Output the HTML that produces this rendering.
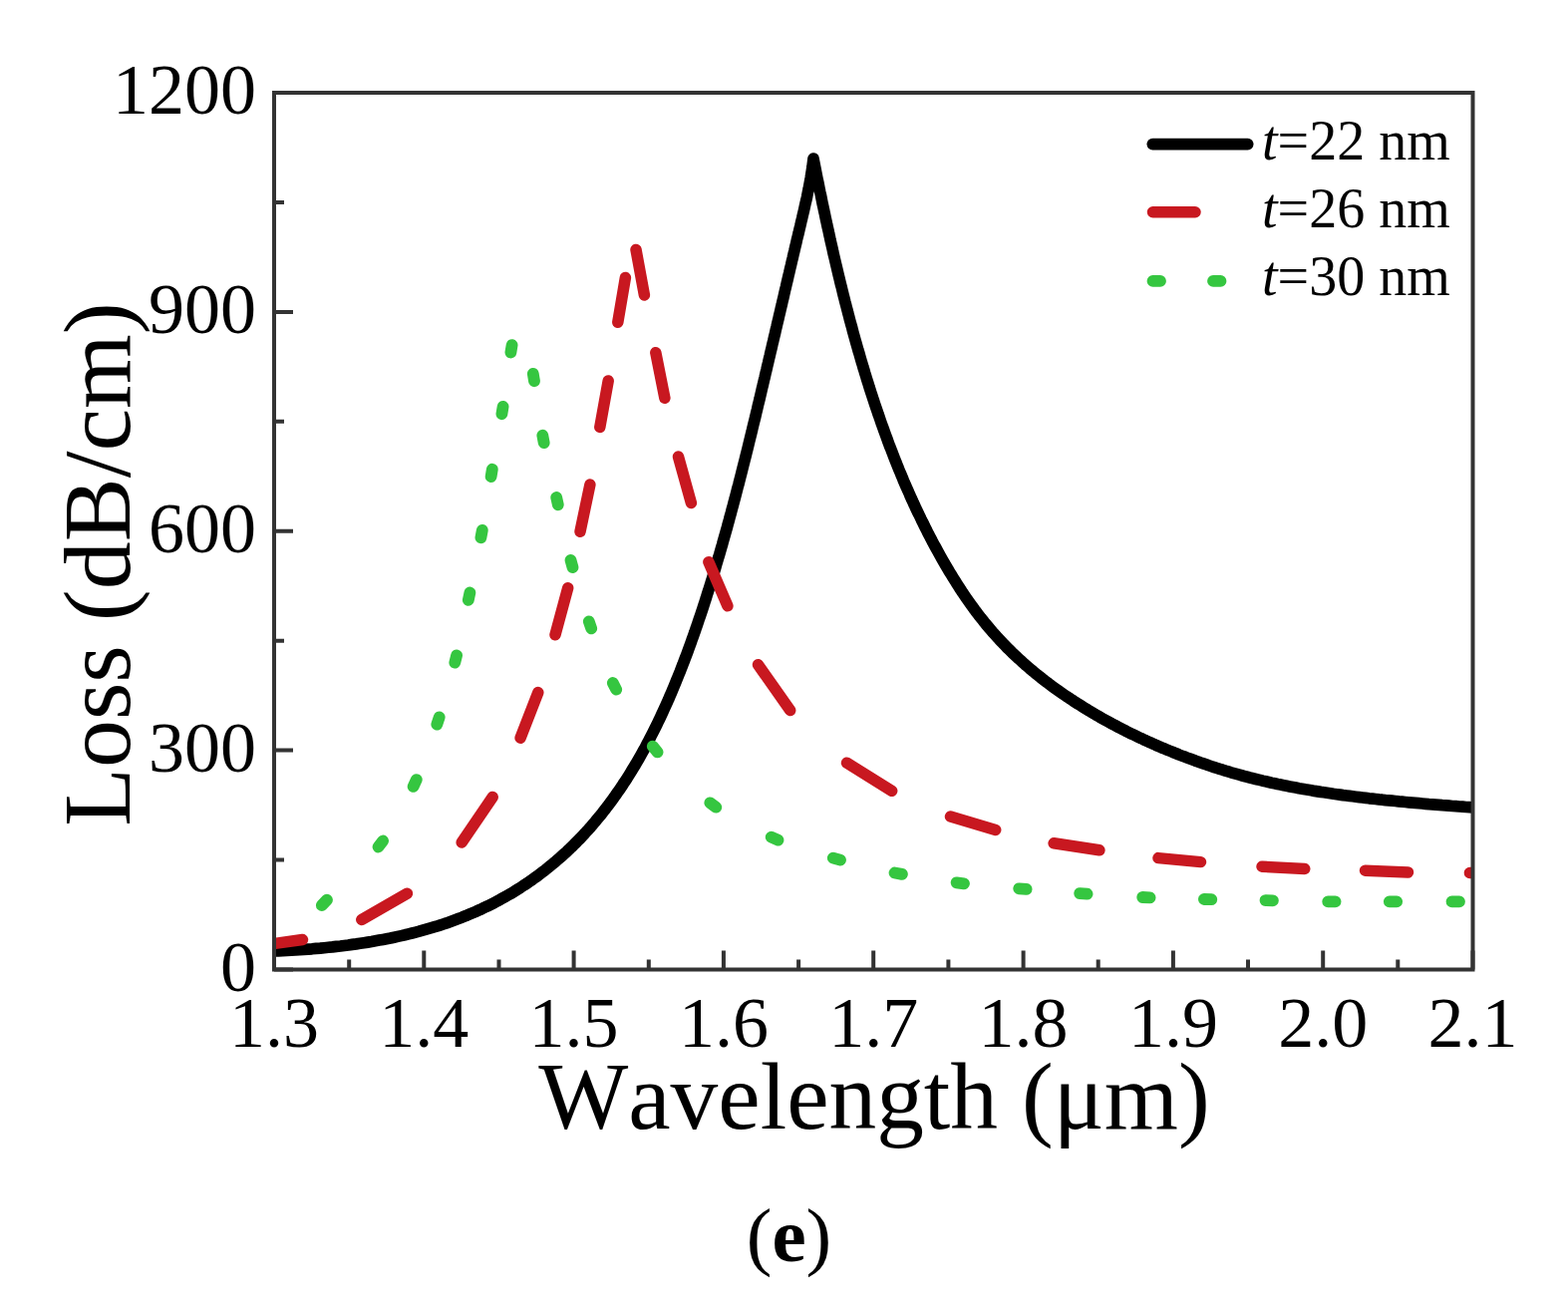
<!DOCTYPE html>
<html><head><meta charset="utf-8"><title>Loss vs Wavelength</title>
<style>html,body{margin:0;padding:0;background:#fff;}body{width:1573px;height:1315px;overflow:hidden;}svg{display:block;}text{font-kerning:none;}</style>
</head><body>
<svg width="1573" height="1315" viewBox="0 0 1573 1315">
<defs><clipPath id="pc"><rect x="275.0" y="60" width="1202.5" height="912.5"/></clipPath></defs>
<g clip-path="url(#pc)" fill="none" stroke-linecap="round" stroke-linejoin="round">
<path d="M275.0,954.0 L279.3,953.8 L283.6,953.6 L287.8,953.4 L292.1,953.2 L296.3,953.0 L300.5,952.7 L304.7,952.4 L308.8,952.1 L313.0,951.8 L317.1,951.4 L321.2,951.1 L325.3,950.7 L329.4,950.3 L333.4,949.9 L337.4,949.4 L341.4,949.0 L345.4,948.5 L349.4,948.0 L353.3,947.4 L357.3,946.9 L361.2,946.3 L365.0,945.7 L368.9,945.1 L372.7,944.5 L376.5,943.8 L380.3,943.1 L384.1,942.4 L387.8,941.7 L391.6,941.0 L395.3,940.2 L398.9,939.4 L402.6,938.6 L406.2,937.8 L409.8,936.9 L413.4,936.0 L417.0,935.1 L420.5,934.2 L424.0,933.2 L427.5,932.2 L431.0,931.2 L434.4,930.2 L437.8,929.2 L441.2,928.1 L444.6,927.0 L447.9,925.9 L451.2,924.7 L454.5,923.5 L457.8,922.3 L461.0,921.1 L464.2,919.8 L467.4,918.6 L470.6,917.2 L473.7,915.9 L476.8,914.6 L479.9,913.2 L483.0,911.8 L486.0,910.3 L489.0,908.9 L492.0,907.4 L495.0,905.9 L497.9,904.4 L500.8,902.8 L503.7,901.2 L506.6,899.6 L509.4,898.0 L512.3,896.4 L515.1,894.7 L517.8,893.0 L520.6,891.3 L523.3,889.5 L526.0,887.7 L528.7,886.0 L531.3,884.1 L534.0,882.3 L536.6,880.4 L539.2,878.6 L541.7,876.7 L544.3,874.7 L546.8,872.8 L549.3,870.8 L551.7,868.8 L554.2,866.8 L556.6,864.8 L559.0,862.7 L561.4,860.6 L563.8,858.5 L566.1,856.4 L568.5,854.3 L570.8,852.1 L573.0,849.9 L575.3,847.7 L577.5,845.5 L579.8,843.2 L582.0,841.0 L584.1,838.7 L586.3,836.4 L588.4,834.0 L590.6,831.7 L592.7,829.3 L594.7,826.9 L596.8,824.5 L598.8,822.1 L600.9,819.6 L602.9,817.2 L604.8,814.7 L606.8,812.2 L608.7,809.6 L610.7,807.1 L612.6,804.5 L614.5,802.0 L616.3,799.4 L618.2,796.8 L620.0,794.1 L621.9,791.5 L623.7,788.8 L625.4,786.1 L627.2,783.4 L629.0,780.7 L630.7,778.0 L632.4,775.2 L634.1,772.4 L635.8,769.7 L637.5,766.9 L639.1,764.1 L640.8,761.2 L642.4,758.4 L644.0,755.5 L645.6,752.6 L647.2,749.8 L648.7,746.8 L650.3,743.9 L651.8,741.0 L653.3,738.0 L654.8,735.1 L656.3,732.1 L657.8,729.1 L659.3,726.1 L660.7,723.1 L662.2,720.1 L663.6,717.0 L665.0,714.0 L666.4,710.9 L667.8,707.8 L669.2,704.8 L670.6,701.7 L671.9,698.5 L673.3,695.4 L674.6,692.3 L675.9,689.1 L677.2,686.0 L678.5,682.8 L679.8,679.6 L681.1,676.4 L682.4,673.3 L683.6,670.0 L684.9,666.8 L686.1,663.6 L687.3,660.4 L688.6,657.1 L689.8,653.9 L691.0,650.6 L692.2,647.3 L693.4,644.0 L694.5,640.7 L695.7,637.4 L696.9,634.1 L698.0,630.8 L699.2,627.5 L700.3,624.2 L701.4,620.8 L702.6,617.5 L703.7,614.1 L704.8,610.8 L705.9,607.4 L707.0,604.0 L708.1,600.7 L709.1,597.3 L710.2,593.9 L711.3,590.5 L712.4,587.1 L713.4,583.7 L714.5,580.2 L715.5,576.8 L716.6,573.4 L717.6,570.0 L718.6,566.5 L719.6,563.1 L720.6,559.6 L721.7,556.2 L722.7,552.7 L723.7,549.2 L724.7,545.8 L725.6,542.3 L726.6,538.8 L727.6,535.3 L728.6,531.8 L729.6,528.3 L730.5,524.8 L731.5,521.3 L732.4,517.8 L733.4,514.3 L734.3,510.8 L735.3,507.2 L736.2,503.7 L737.2,500.2 L738.1,496.6 L739.0,493.1 L739.9,489.5 L740.9,486.0 L741.8,482.4 L742.7,478.9 L743.6,475.3 L744.5,471.8 L745.4,468.2 L746.3,464.6 L747.2,461.1 L748.1,457.5 L749.0,453.9 L749.9,450.3 L750.8,446.7 L751.6,443.2 L752.5,439.6 L753.4,436.0 L754.3,432.4 L755.1,428.8 L756.0,425.2 L756.9,421.6 L757.8,418.0 L758.6,414.4 L759.5,410.8 L760.3,407.2 L761.2,403.6 L762.1,400.0 L762.9,396.4 L763.8,392.7 L764.6,389.1 L765.5,385.5 L766.3,381.9 L767.2,378.3 L768.0,374.7 L768.9,371.1 L769.7,367.4 L770.6,363.8 L771.4,360.2 L772.3,356.6 L773.1,353.0 L774.0,349.3 L774.8,345.7 L775.7,342.1 L776.5,338.5 L777.4,334.9 L778.2,331.2 L779.1,327.6 L779.9,324.0 L780.8,320.4 L781.6,316.8 L782.5,313.1 L783.3,309.5 L784.2,305.9 L785.0,302.3 L785.9,298.6 L786.7,295.0 L787.5,291.4 L788.4,287.8 L789.2,284.2 L790.1,280.5 L790.9,276.9 L791.8,273.3 L792.6,269.7 L793.5,266.1 L794.3,262.4 L795.2,258.8 L796.0,255.2 L796.9,251.6 L797.7,248.0 L798.6,244.4 L799.4,240.7 L800.3,237.1 L801.2,233.5 L802.0,229.9 L802.9,226.3 L803.7,222.7 L804.6,219.1 L805.4,215.5 L806.3,211.8 L807.1,208.2 L807.9,204.6 L808.8,200.9 L809.6,197.2 L810.3,193.5 L811.1,189.8 L811.8,186.1 L812.5,182.3 L813.2,178.5 L813.8,174.7 L814.4,170.8 L815.0,166.9 L815.5,163.0 L816.0,159.0 L816.6,162.1 L817.2,165.1 L817.8,168.2 L818.4,171.2 L819.0,174.3 L819.6,177.3 L820.2,180.3 L820.9,183.4 L821.5,186.4 L822.1,189.5 L822.7,192.5 L823.4,195.5 L824.0,198.5 L824.6,201.6 L825.2,204.6 L825.9,207.6 L826.5,210.6 L827.2,213.7 L827.8,216.7 L828.4,219.7 L829.1,222.7 L829.7,225.7 L830.4,228.7 L831.1,231.7 L831.7,234.7 L832.4,237.7 L833.0,240.7 L833.7,243.6 L834.4,246.6 L835.1,249.6 L835.7,252.6 L836.4,255.6 L837.1,258.5 L837.8,261.5 L838.5,264.5 L839.2,267.4 L839.9,270.4 L840.6,273.3 L841.3,276.3 L842.0,279.2 L842.7,282.2 L843.4,285.1 L844.2,288.0 L844.9,291.0 L845.6,293.9 L846.3,296.8 L847.1,299.8 L847.8,302.7 L848.6,305.6 L849.3,308.5 L850.1,311.4 L850.8,314.3 L851.6,317.2 L852.3,320.1 L853.1,323.0 L853.9,325.9 L854.7,328.7 L855.4,331.6 L856.2,334.5 L857.0,337.3 L857.8,340.2 L858.6,343.1 L859.4,345.9 L860.2,348.8 L861.0,351.6 L861.9,354.4 L862.7,357.3 L863.5,360.1 L864.3,362.9 L865.2,365.7 L866.0,368.6 L866.9,371.4 L867.7,374.2 L868.6,377.0 L869.4,379.8 L870.3,382.6 L871.2,385.3 L872.0,388.1 L872.9,390.9 L873.8,393.7 L874.7,396.4 L875.6,399.2 L876.5,401.9 L877.4,404.7 L878.3,407.4 L879.3,410.2 L880.2,412.9 L881.1,415.6 L882.1,418.3 L883.0,421.0 L883.9,423.8 L884.9,426.5 L885.9,429.1 L886.8,431.8 L887.8,434.5 L888.8,437.2 L889.8,439.9 L890.7,442.5 L891.7,445.2 L892.7,447.9 L893.8,450.5 L894.8,453.1 L895.8,455.8 L896.8,458.4 L897.8,461.0 L898.9,463.6 L899.9,466.3 L901.0,468.9 L902.0,471.5 L903.1,474.0 L904.2,476.6 L905.3,479.2 L906.3,481.8 L907.4,484.3 L908.5,486.9 L909.6,489.4 L910.8,492.0 L911.9,494.5 L913.0,497.1 L914.1,499.6 L915.3,502.1 L916.4,504.6 L917.6,507.1 L918.7,509.6 L919.9,512.1 L921.1,514.6 L922.3,517.0 L923.5,519.5 L924.6,522.0 L925.9,524.4 L927.1,526.9 L928.3,529.3 L929.5,531.7 L930.7,534.2 L932.0,536.6 L933.2,539.0 L934.5,541.4 L935.7,543.8 L937.0,546.2 L938.3,548.5 L939.6,550.9 L940.9,553.3 L942.2,555.6 L943.5,558.0 L944.8,560.3 L946.1,562.6 L947.5,565.0 L948.8,567.3 L950.2,569.6 L951.5,571.9 L952.9,574.2 L954.3,576.4 L955.7,578.7 L957.1,581.0 L958.5,583.2 L959.9,585.5 L961.3,587.7 L962.7,589.9 L964.2,592.1 L965.6,594.3 L967.1,596.5 L968.6,598.7 L970.1,600.8 L971.6,603.0 L973.1,605.1 L974.6,607.3 L976.2,609.4 L977.7,611.5 L979.3,613.6 L980.9,615.7 L982.4,617.7 L984.0,619.8 L985.7,621.8 L987.3,623.9 L988.9,625.9 L990.6,627.9 L992.3,629.9 L993.9,631.8 L995.6,633.8 L997.3,635.7 L999.1,637.7 L1000.8,639.6 L1002.6,641.5 L1004.3,643.4 L1006.1,645.2 L1007.9,647.1 L1009.7,649.0 L1011.5,650.8 L1013.4,652.6 L1015.2,654.4 L1017.1,656.2 L1019.0,658.0 L1020.9,659.8 L1022.8,661.5 L1024.7,663.2 L1026.6,665.0 L1028.5,666.7 L1030.5,668.4 L1032.5,670.1 L1034.4,671.8 L1036.4,673.4 L1038.4,675.1 L1040.4,676.7 L1042.5,678.3 L1044.5,680.0 L1046.6,681.6 L1048.6,683.2 L1050.7,684.7 L1052.8,686.3 L1054.9,687.9 L1057.0,689.4 L1059.1,690.9 L1061.3,692.5 L1063.4,694.0 L1065.5,695.5 L1067.7,697.0 L1069.9,698.5 L1072.1,699.9 L1074.3,701.4 L1076.5,702.8 L1078.7,704.3 L1080.9,705.7 L1083.2,707.1 L1085.4,708.5 L1087.7,709.9 L1089.9,711.3 L1092.2,712.7 L1094.5,714.1 L1096.8,715.4 L1099.1,716.8 L1101.4,718.1 L1103.7,719.5 L1106.1,720.8 L1108.4,722.1 L1110.8,723.4 L1113.1,724.7 L1115.5,726.0 L1117.9,727.2 L1120.3,728.5 L1122.7,729.8 L1125.1,731.0 L1127.5,732.2 L1129.9,733.5 L1132.4,734.7 L1134.8,735.9 L1137.3,737.1 L1139.8,738.3 L1142.2,739.5 L1144.7,740.6 L1147.2,741.8 L1149.7,742.9 L1152.2,744.1 L1154.7,745.2 L1157.3,746.3 L1159.8,747.5 L1162.4,748.6 L1164.9,749.7 L1167.5,750.7 L1170.1,751.8 L1172.7,752.9 L1175.3,753.9 L1177.9,755.0 L1180.5,756.0 L1183.1,757.1 L1185.7,758.1 L1188.4,759.1 L1191.0,760.1 L1193.7,761.1 L1196.4,762.1 L1199.1,763.1 L1201.8,764.0 L1204.5,765.0 L1207.2,765.9 L1209.9,766.8 L1212.6,767.8 L1215.4,768.7 L1218.1,769.6 L1220.9,770.5 L1223.7,771.4 L1226.5,772.2 L1229.3,773.1 L1232.1,773.9 L1234.9,774.8 L1237.7,775.6 L1240.6,776.4 L1243.4,777.2 L1246.3,778.0 L1249.2,778.8 L1252.1,779.5 L1255.0,780.3 L1257.9,781.0 L1260.8,781.7 L1263.8,782.4 L1266.7,783.2 L1269.7,783.8 L1272.7,784.5 L1275.6,785.2 L1278.6,785.8 L1281.7,786.5 L1284.7,787.1 L1287.7,787.7 L1290.8,788.3 L1293.8,788.9 L1296.9,789.5 L1300.0,790.1 L1303.1,790.7 L1306.2,791.2 L1309.3,791.8 L1312.4,792.3 L1315.5,792.8 L1318.7,793.4 L1321.8,793.9 L1325.0,794.4 L1328.1,794.8 L1331.3,795.3 L1334.5,795.8 L1337.7,796.3 L1340.9,796.7 L1344.1,797.1 L1347.3,797.6 L1350.6,798.0 L1353.8,798.4 L1357.0,798.8 L1360.3,799.2 L1363.6,799.6 L1366.8,800.0 L1370.1,800.4 L1373.4,800.8 L1376.7,801.1 L1380.0,801.5 L1383.3,801.9 L1386.6,802.2 L1389.9,802.6 L1393.2,802.9 L1396.5,803.2 L1399.9,803.5 L1403.2,803.9 L1406.5,804.2 L1409.9,804.5 L1413.2,804.8 L1416.6,805.1 L1419.9,805.4 L1423.3,805.7 L1426.7,806.0 L1430.0,806.3 L1433.4,806.6 L1436.8,806.8 L1440.2,807.1 L1443.6,807.4 L1446.9,807.7 L1450.3,807.9 L1453.7,808.2 L1457.1,808.5 L1460.5,808.7 L1463.9,809.0 L1467.3,809.2 L1470.7,809.5 L1474.1,809.7 L1477.5,810.0" stroke="#000" stroke-width="11.7"/>
<path d="M271.0,947.0 L303.5,942.5 M362.8,922.4 L408.4,896.2 M463.2,845.1 L494.2,799.5 M522.1,740.2 L539.8,694.6 M557.0,636.8 L569.7,589.7 M582.0,533.3 L591.9,486.1 M601.8,428.4 L610.2,382.0 M619.8,323.3 L627.4,278.5 M638.0,250.4 L646.4,296.0 M657.8,353.7 L666.9,399.3 M680.5,458.1 L693.4,504.5 M710.9,563.7 L729.9,607.8 M760.5,666.7 L792.7,712.5 M849.5,765.2 L894.7,793.3 M953.5,819.1 L998.7,832.4 M1057.1,845.8 L1102.9,852.8 M1162.0,860.6 L1204.5,864.6 M1266.0,869.2 L1308.8,871.5 M1369.5,873.2 L1412.5,875.0 M1474.4,875.5 L1500.0,875.8" stroke="#c81820" stroke-width="11.5"/>
<path d="M322.8,908.1 L328.0,902.7 M379.5,849.5 L384.1,843.5 M414.6,788.9 L417.8,782.1 M438.3,726.6 L440.7,719.4 M456.3,664.6 L458.1,657.4 M469.8,601.9 L471.4,594.5 M482.4,539.3 L483.8,531.9 M492.6,478.1 L493.8,470.7 M503.4,415.3 L504.6,407.9 M512.4,353.5 L513.6,346.1 M534.8,374.9 L536.0,382.3 M544.3,436.7 L545.7,444.1 M558.2,498.9 L559.8,506.3 M572.5,561.9 L574.5,569.1 M590.8,623.4 L593.2,630.4 M614.8,685.0 L618.2,691.6 M654.8,748.6 L659.6,754.4 M712.3,805.3 L718.3,809.7 M773.7,839.7 L780.5,842.7 M835.8,860.6 L843.0,862.6 M897.5,875.5 L904.9,876.9 M959.6,885.3 L967.0,886.3 M1022.2,891.3 L1029.6,891.9 M1083.2,896.1 L1090.6,896.7 M1146.2,900.0 L1153.6,900.4 M1207.9,902.0 L1215.3,902.2 M1269.5,903.1 L1276.9,903.3 M1332.2,904.3 L1339.6,904.3 M1393.8,904.3 L1401.2,904.3 M1456.5,904.3 L1464.0,904.3" stroke="#35c640" stroke-width="11.8"/>
</g>
<g fill="none" stroke="#333" stroke-width="4">
<rect x="275.0" y="93.0" width="1202.5" height="879.5" stroke-linejoin="miter"/>
<path d="M275.0,972.5 V953.5 M350.2,972.5 V962.5 M425.3,972.5 V953.5 M500.5,972.5 V962.5 M575.6,972.5 V953.5 M650.8,972.5 V962.5 M725.9,972.5 V953.5 M801.1,972.5 V962.5 M876.2,972.5 V953.5 M951.4,972.5 V962.5 M1026.6,972.5 V953.5 M1101.7,972.5 V962.5 M1176.9,972.5 V953.5 M1252.0,972.5 V962.5 M1327.2,972.5 V953.5 M1402.3,972.5 V962.5 M1477.5,972.5 V953.5 M275.0,972.5 H294.0 M275.0,862.6 H285.0 M275.0,752.6 H294.0 M275.0,642.7 H285.0 M275.0,532.8 H294.0 M275.0,422.8 H285.0 M275.0,312.9 H294.0 M275.0,202.9 H285.0 M275.0,93.0 H294.0"/>
</g>
<g fill="none" stroke-linecap="round">
<path d="M1156.3,144.6 H1251.7" stroke="#000" stroke-width="11.7"/>
<path d="M1156.5,212.7 H1199" stroke="#c81820" stroke-width="11.5"/>
<path d="M1156.5,281.9 H1164 M1217,281.9 H1224.5" stroke="#35c640" stroke-width="11.8"/>
</g>
<g font-family="&quot;Liberation Serif&quot;, &quot;Times New Roman&quot;, serif" fill="#000">
<text x="1266" y="160.3" font-size="56"><tspan font-style="italic">t</tspan>=22 nm</text>
<text x="1266" y="228.2" font-size="56"><tspan font-style="italic">t</tspan>=26 nm</text>
<text x="1266" y="296.0" font-size="56"><tspan font-style="italic">t</tspan>=30 nm</text>
<text x="275.0" y="1049.5" font-size="72" text-anchor="middle">1.3</text>
<text x="425.3" y="1049.5" font-size="72" text-anchor="middle">1.4</text>
<text x="575.6" y="1049.5" font-size="72" text-anchor="middle">1.5</text>
<text x="725.9" y="1049.5" font-size="72" text-anchor="middle">1.6</text>
<text x="876.2" y="1049.5" font-size="72" text-anchor="middle">1.7</text>
<text x="1026.6" y="1049.5" font-size="72" text-anchor="middle">1.8</text>
<text x="1176.9" y="1049.5" font-size="72" text-anchor="middle">1.9</text>
<text x="1327.2" y="1049.5" font-size="72" text-anchor="middle">2.0</text>
<text x="1477.5" y="1049.5" font-size="72" text-anchor="middle">2.1</text>
<text x="257" y="993.5" font-size="72" text-anchor="end">0</text>
<text x="257" y="773.6" font-size="72" text-anchor="end">300</text>
<text x="257" y="553.8" font-size="72" text-anchor="end">600</text>
<text x="257" y="333.9" font-size="72" text-anchor="end">900</text>
<text x="257" y="114.0" font-size="72" text-anchor="end">1200</text>
<text x="877" y="1132" font-size="95.4" text-anchor="middle">Wavelength (μm)</text>
<text transform="translate(130,566) rotate(-90)" font-size="96" text-anchor="middle">Loss (dB/cm)</text>
<text x="791.5" y="1265" font-size="77" text-anchor="middle">(<tspan font-weight="bold">e</tspan>)</text>
</g>
</svg>
</body></html>
